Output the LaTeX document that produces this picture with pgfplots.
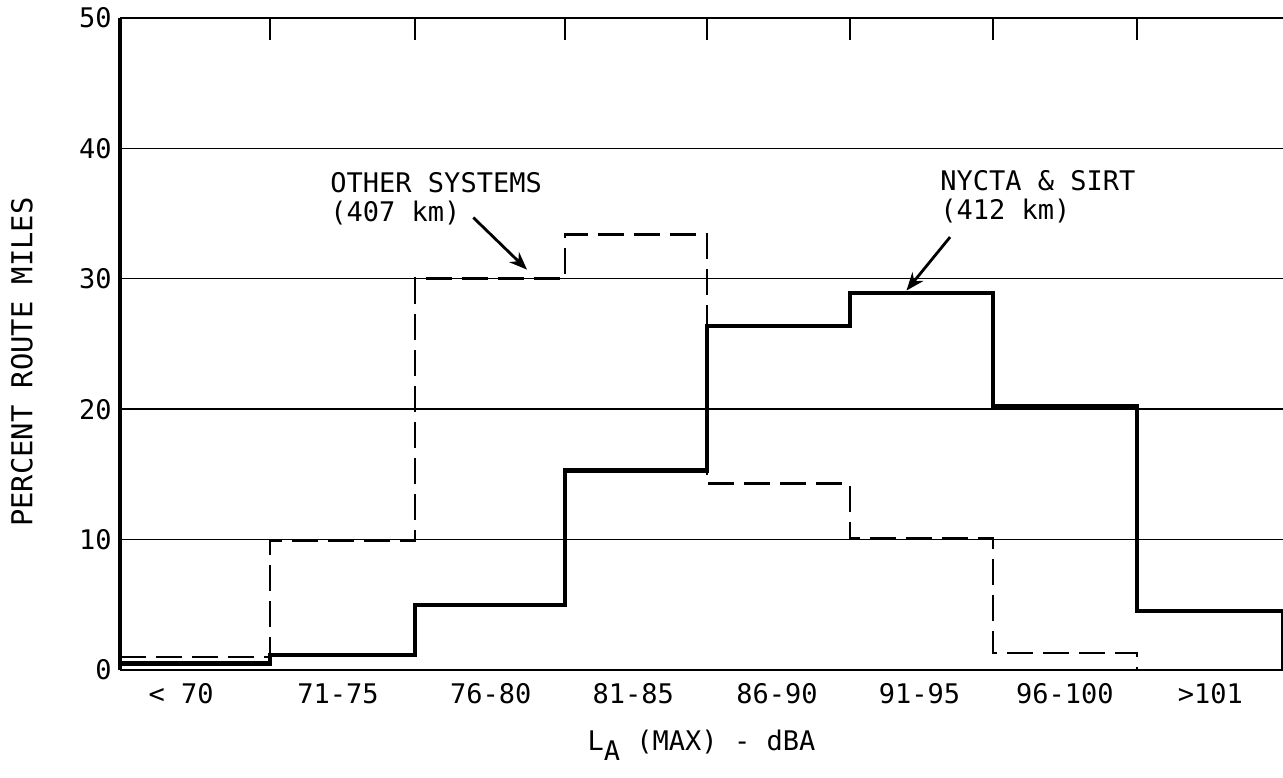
\documentclass[border=0pt]{standalone}
\usepackage{fontspec}
\setmainfont{DejaVu Sans Mono}
\usepackage{pgfplots}
\pgfplotsset{compat=1.18}
\usetikzlibrary{arrows.meta,calc}

\begin{document}
\fontsize{13.5}{14.5}\selectfont
\begin{tikzpicture}
\begin{axis}[
  scale only axis, width=581.5pt, height=326pt,
  xmin=0, xmax=8, ymin=0, ymax=50,
  clip=false,
  axis line style={draw=none},
  major tick length=0pt,
  /pgf/number format/assume math mode=true,
  tick label style={font=\fontsize{13.5}{15}\selectfont},
  xtick={0.42,1.50,2.55,3.53,4.52,5.50,6.5,7.5},
  xticklabels={{< 70},{71-75},{76-80},{81-85},{86-90},{91-95},{96-100},{>101}},
  x tick label style={anchor=north, yshift=-2pt},
  extra x ticks={1.032,2.029,3.061,4.038,5.022,6.005,6.996},
  extra x tick labels={},
  extra x tick style={xtick pos=upper, xticklabel pos=upper, tick align=inside,
     major tick length=11pt, tick style={draw=black, line width=1.1pt}, grid=none},
  ytick={0,10,20,30,40,50},
  y tick label style={anchor=east, inner sep=0pt, xshift=-4pt},
  ymajorgrids,
  major grid style={black, line width=0.7pt},
  xlabel={L\raisebox{-5pt}{A} (MAX) - dBA},
  ylabel={\fontsize{14.4}{15}\selectfont PERCENT ROUTE MILES},
  every axis x label/.style={at={(axis description cs:0.5,-0.115)}, anchor=center},
  every axis y label/.style={at={(axis description cs:-0.0843,0.472)}, anchor=center, rotate=90},
]
% NYCTA & SIRT (solid)
\addplot[const plot, black, line width=2.1pt, line join=miter] coordinates {
  (0,0.5) (1.032,1.15) (2.029,5.0) (3.061,15.3) (4.038,26.4) (5.022,28.9) (6.005,20.2) (6.996,4.5) (8,4.5) (8,0)
};
% Other systems (dashed)
\addplot[const plot, black, line width=1.3pt, dash pattern=on 13pt off 5pt] coordinates {
  (0,1.0) (1.032,9.9) (2.029,30.0) (3.061,33.4) (4.038,14.3) (5.022,10.1) (6.005,1.3) (6.996,1.3) (6.996,0)
};
\coordinate (ll) at (rel axis cs:0,0);
\coordinate (ur) at (rel axis cs:1,1);
\draw[line width=1.6pt] (rel axis cs:0,0) -- (rel axis cs:0,1);
\draw[line width=1pt] (rel axis cs:0,1) -- (rel axis cs:1,1);
\draw[line width=0.9pt] (rel axis cs:0,0) -- (rel axis cs:1,0);
\node[anchor=north west, align=left, inner sep=0pt] at (axis cs:1.445,38.2) {OTHER SYSTEMS\\(407 km)};
\node[anchor=north west, align=left, inner sep=0pt] at (axis cs:5.64,38.3) {NYCTA \& SIRT\\(412 km)};
\draw[-{Stealth[open,length=9pt,width=7pt]}, line width=1.4pt] (axis cs:2.43,34.7) -- (axis cs:2.80,30.7);
\draw[-{Stealth[length=9pt,width=7pt]}, line width=1.4pt] (axis cs:5.71,33.2) -- (axis cs:5.41,29.1);
\end{axis}
\pgfresetboundingbox
\path ($(ll)+(-60pt,-54pt)$) rectangle ($(ur)+(0pt,9pt)$);
\end{tikzpicture}
\end{document}
